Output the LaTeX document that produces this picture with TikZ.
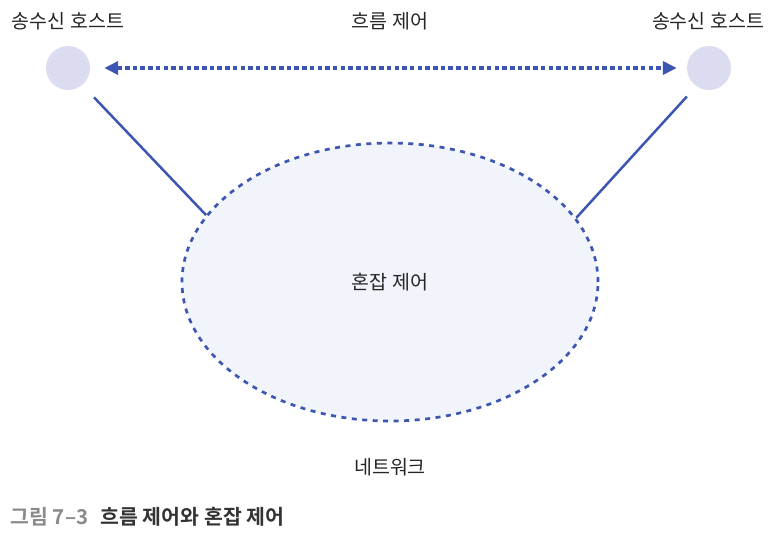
\documentclass[tikz,border=0pt]{standalone}
\usepackage{fontspec}
\setmainfont{Noto Sans CJK KR}
\newfontfamily\capfont{Noto Sans CJK KR Bold}
\usetikzlibrary{arrows.meta,shapes.geometric}
\definecolor{linkblue}{HTML}{3D56B2}
\definecolor{hostfill}{HTML}{DCDCF1}
\definecolor{netfill}{HTML}{F2F4FB}
\definecolor{capgray}{HTML}{8A8A8A}
\definecolor{captext}{HTML}{333333}
\tikzset{
  host/.style={circle, fill=hostfill, minimum size=44pt, inner sep=0pt},
  lbl/.style={font=\fontsize{19.5}{22}\selectfont, text=black!85},
  link/.style={linkblue, line width=2.5pt},
}
\begin{document}
\begin{tikzpicture}[x=1pt,y=-1pt]
  \useasboundingbox (0,0) rectangle (770,539);
  \node[ellipse, draw=linkblue, fill=netfill, line width=2.7pt,
        dash pattern=on 5pt off 5.5pt, minimum width=416pt, minimum height=278pt,
        inner sep=0pt] (net) at (390,282) {};
  \node[host] (hostL) at (68,68) {};
  \node[host] (hostR) at (709,68) {};
  \node[lbl] (hostLlbl) at (68,21) {송수신 호스트};
  \node[lbl] (hostRlbl) at (708,21) {송수신 호스트};
  \node[lbl] (flowlbl) at (390,21) {흐름 제어};
  \node[lbl] (conglbl) at (390,282) {혼잡 제어};
  \node[lbl] (netlbl) at (390,467) {네트워크};
  \node[anchor=west, font=\capfont\fontsize{20.5}{24}\selectfont] (cap) at (7,517)
    {\textcolor{capgray}{그림 7–3}\hspace{0.6em}\textcolor{captext}{흐름 제어와 혼잡 제어}};
  \draw[link, line width=3.5pt, dash pattern=on 4.5pt off 3.2pt, shorten <=14pt, shorten >=10pt,
        {Triangle[length=14pt,width=13pt]}-{Triangle[length=14pt,width=13pt]}]
        (hostL) -- (hostR);
  \draw[link, shorten <=17pt] (hostL.-50) -- (net.160.7);
  \draw[link, shorten <=14pt] (hostR.-125) -- (net.19.6);
\end{tikzpicture}
\end{document}
